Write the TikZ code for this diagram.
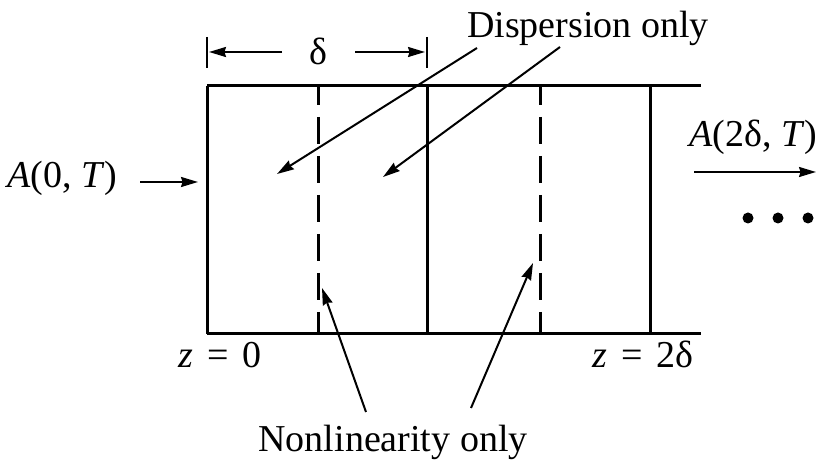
\documentclass[tikz,border=0pt]{standalone}
\usepackage{fontspec}
\setmainfont{Liberation Serif}
\usetikzlibrary{arrows.meta}
\tikzset{
  wall/.style={line width=1.5pt},
  cut/.style={line width=1.5pt, dash pattern=on 13.5pt off 6pt, dash phase=4pt},
  ptr/.style={line width=1pt, -{Stealth[length=8.5pt,width=5pt,inset=0.8pt]}},
  lbl/.style={inner sep=0pt, font=\fontsize{19}{23}\selectfont},
}
\newcommand{\eqsp}{\hspace{7pt}=\hspace{7pt}}

\begin{document}
\begin{tikzpicture}[x=0.5pt,y=-0.5pt]
    \useasboundingbox (0,0) rectangle (826,470);
    \draw[wall] (207,86) -- (701,86);
    \draw[wall] (207,334) -- (701,334);
    \foreach \x in {207,427,650} \draw[wall] (\x,86) -- (\x,334);
    \foreach \x in {318,540} \draw[cut] (\x,86) -- (\x,334);
    % step width
    \draw[line width=1.2pt] (207,37) -- (207,68);
    \draw[line width=1.2pt] (427,37) -- (427,68);
    \node[lbl, anchor=base] (step) at (318,65) {δ};
    \coordinate (stepL) at (282,52);
    \coordinate (stepR) at (355,52);
    \coordinate (wallL) at (209,52);
    \coordinate (wallR) at (425,52);
    \draw[ptr] (stepL) -- (wallL);
    \draw[ptr] (stepR) -- (wallR);
    % input and output
    \node[lbl, anchor=base east] (ain) at (118,188) {\textit{A}(0, \textit{T})};
    \coordinate (ainS) at (140,182);
    \coordinate (ainE) at (198,182);
    \draw[ptr] (ainS) -- (ainE);
    \node[lbl, anchor=base west] (aout) at (689,147) {\textit{A}(2δ, \textit{T})};
    \coordinate (aoutS) at (694,172);
    \coordinate (aoutE) at (816,172);
    \draw[ptr] (aoutS) -- (aoutE);
    \foreach \x in {748,778,808} \fill (\x,218) circle (5.5);
    % positions
    \node[lbl, anchor=base] (zstart) at (220,368) {\textit{z}\eqsp 0};
    \node[lbl, anchor=base] (zend) at (643,368) {\textit{z}\eqsp 2δ};
    % step labels
    \node[lbl, anchor=base] (disp) at (588,38) {Dispersion only};
    \coordinate (dispA) at (477,48);
    \coordinate (dispB) at (560,47);
    \coordinate (dispTipA) at (277,174);
    \coordinate (dispTipB) at (383,177);
    \draw[ptr] (dispA) -- (dispTipA);
    \draw[ptr] (dispB) -- (dispTipB);
    \node[lbl, anchor=base] (nonl) at (393,452) {Nonlinearity only};
    \coordinate (nonlA) at (366,412);
    \coordinate (nonlB) at (471,408);
    \coordinate (nonlTipA) at (322,288);
    \coordinate (nonlTipB) at (533,263);
    \draw[ptr] (nonlA) -- (nonlTipA);
    \draw[ptr] (nonlB) -- (nonlTipB);
  \end{tikzpicture}
\end{document}
